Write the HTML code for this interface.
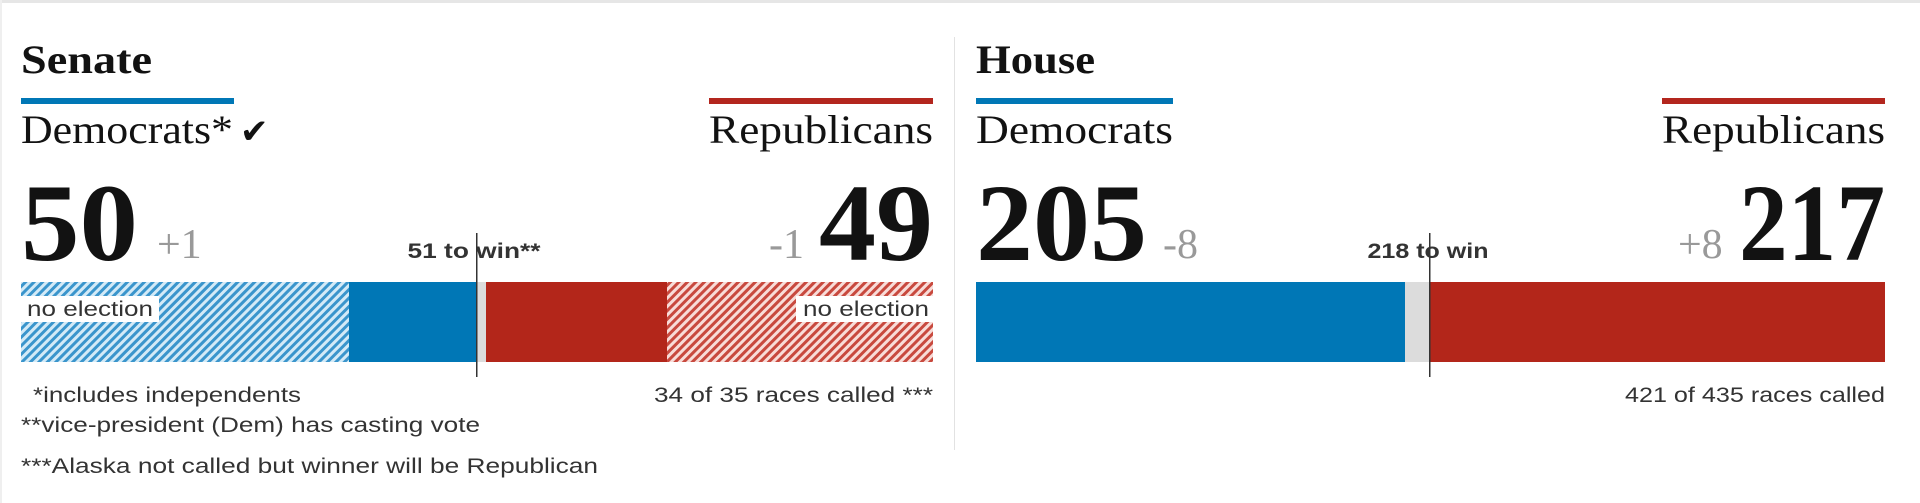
<!DOCTYPE html>
<html><head><meta charset="utf-8"><style>
html,body{margin:0;padding:0;background:#fff;width:1920px;height:503px;overflow:hidden}
svg{display:block}
.hd{font-family:"Liberation Serif",serif;}
.sans{font-family:"Liberation Sans",sans-serif;}
</style></head><body>
<svg width="1920" height="503" viewBox="0 0 1920 503" xmlns="http://www.w3.org/2000/svg">
<defs>
<pattern id="hb" width="6" height="6" patternUnits="userSpaceOnUse" patternTransform="rotate(45)">
<rect width="6" height="6" fill="#d3eaf7"/><rect width="3" height="6" fill="#3a95cc"/></pattern>
<pattern id="hr" width="6" height="6" patternUnits="userSpaceOnUse" patternTransform="rotate(45)">
<rect width="6" height="6" fill="#f8dcd8"/><rect width="3" height="6" fill="#c8493e"/></pattern>
</defs>
<rect x="0" y="0" width="1920" height="3" fill="#e6e6e6"/>
<rect x="0" y="0" width="2" height="503" fill="#efefef"/>
<rect x="954" y="37" width="1" height="413" fill="#e2e2e2"/>

<!-- Senate -->
<text class="hd" x="21" y="73" font-size="40" font-weight="bold" fill="#121212" textLength="131" lengthAdjust="spacingAndGlyphs">Senate</text>
<rect x="21" y="98" width="213" height="6" fill="#0077b6"/>
<rect x="709" y="98" width="224" height="6" fill="#b3261e"/>
<text class="hd" x="21" y="143" font-size="40" fill="#121212" textLength="212" lengthAdjust="spacingAndGlyphs">Democrats*</text>
<text x="240" y="143" font-size="34" font-family="DejaVu Sans,sans-serif" font-weight="bold" fill="#121212">✔</text>
<text class="hd" x="933" y="143" font-size="40" fill="#121212" text-anchor="end" textLength="224" lengthAdjust="spacingAndGlyphs">Republicans</text>
<text class="hd" x="21" y="260" font-size="110" font-weight="bold" fill="#121212" textLength="117" lengthAdjust="spacingAndGlyphs">50</text>
<text class="hd" x="157" y="258" font-size="42" fill="#999">+1</text>
<text class="hd" x="769" y="258" font-size="42" fill="#999">-1</text>
<text class="hd" x="933" y="260" font-size="110" font-weight="bold" fill="#121212" text-anchor="end" textLength="114" lengthAdjust="spacingAndGlyphs">49</text>
<text class="sans" x="474" y="258" font-size="21" font-weight="bold" fill="#333" text-anchor="middle" textLength="133" lengthAdjust="spacingAndGlyphs">51 to win**</text>
<rect x="21" y="282" width="328" height="80" fill="url(#hb)"/>
<rect x="349" y="282" width="127" height="80" fill="#0077b6"/>
<rect x="476" y="282" width="10" height="80" fill="#dcdcdc"/>
<rect x="486" y="282" width="181" height="80" fill="#b3261a"/>
<rect x="667" y="282" width="266" height="80" fill="url(#hr)"/>
<rect x="21" y="296" width="138" height="26" fill="#fff"/>
<text class="sans" x="27" y="316" font-size="21" fill="#333" textLength="126" lengthAdjust="spacingAndGlyphs">no election</text>
<rect x="796" y="296" width="137" height="26" fill="#fff"/>
<text class="sans" x="929" y="316" font-size="21" fill="#333" text-anchor="end" textLength="126" lengthAdjust="spacingAndGlyphs">no election</text>
<rect x="476" y="233" width="1.5" height="144" fill="#333"/>
<text class="sans" x="33" y="402" font-size="21" fill="#333" textLength="268" lengthAdjust="spacingAndGlyphs">*includes independents</text>
<text class="sans" x="21" y="432" font-size="21" fill="#333" textLength="459" lengthAdjust="spacingAndGlyphs">**vice-president (Dem) has casting vote</text>
<text class="sans" x="21" y="473" font-size="21" fill="#333" textLength="577" lengthAdjust="spacingAndGlyphs">***Alaska not called but winner will be Republican</text>
<text class="sans" x="933" y="402" font-size="21" fill="#333" text-anchor="end" textLength="279" lengthAdjust="spacingAndGlyphs">34 of 35 races called ***</text>

<!-- House -->
<text class="hd" x="976" y="73" font-size="40" font-weight="bold" fill="#121212" textLength="119" lengthAdjust="spacingAndGlyphs">House</text>
<rect x="976" y="98" width="197" height="6" fill="#0077b6"/>
<rect x="1662" y="98" width="223" height="6" fill="#b3261e"/>
<text class="hd" x="976" y="143" font-size="40" fill="#121212" textLength="197" lengthAdjust="spacingAndGlyphs">Democrats</text>
<text class="hd" x="1885" y="143" font-size="40" fill="#121212" text-anchor="end" textLength="223" lengthAdjust="spacingAndGlyphs">Republicans</text>
<text class="hd" x="976" y="260" font-size="110" font-weight="bold" fill="#121212" textLength="171" lengthAdjust="spacingAndGlyphs">205</text>
<text class="hd" x="1163" y="258" font-size="42" fill="#999">-8</text>
<text class="hd" x="1678" y="258" font-size="42" fill="#999">+8</text>
<text class="hd" x="1885" y="260" font-size="110" font-weight="bold" fill="#121212" text-anchor="end" textLength="146" lengthAdjust="spacingAndGlyphs">217</text>
<text class="sans" x="1428" y="258" font-size="21" font-weight="bold" fill="#333" text-anchor="middle" textLength="121" lengthAdjust="spacingAndGlyphs">218 to win</text>
<rect x="976" y="282" width="429" height="80" fill="#0077b6"/>
<rect x="1405" y="282" width="24" height="80" fill="#dcdcdc"/>
<rect x="1429" y="282" width="456" height="80" fill="#b3261a"/>
<rect x="1429" y="233" width="1.5" height="144" fill="#333"/>
<text class="sans" x="1885" y="402" font-size="21" fill="#333" text-anchor="end" textLength="260" lengthAdjust="spacingAndGlyphs">421 of 435 races called</text>
</svg>
</body></html>
